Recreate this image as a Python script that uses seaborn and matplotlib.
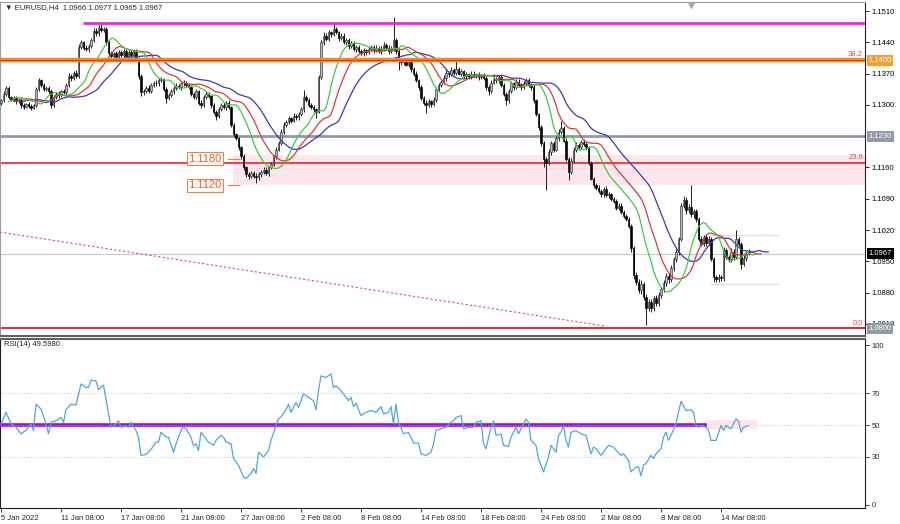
import numpy as np
import pandas as pd
import matplotlib
matplotlib.use("Agg")
import matplotlib.pyplot as plt
from matplotlib.patches import Rectangle
from matplotlib.transforms import blended_transform_factory
import seaborn as sns

# ---------------- data (prices in pips above 1.0000) ----------------
FIRST_OPEN = 1305
CLOSE = [
    1310, 1325, 1338, 1318, 1312, 1315, 1308, 1312, 1300, 1296,
    1302, 1298, 1294, 1300, 1335, 1355, 1345, 1335, 1338, 1330,
    1300, 1318, 1325, 1322, 1330, 1328, 1345, 1365, 1360, 1372,
    1365, 1430, 1440, 1428, 1425, 1432, 1445, 1465, 1460, 1472,
    1468, 1470, 1440, 1415, 1410, 1415, 1408, 1418, 1412, 1420,
    1410, 1418, 1412, 1420, 1405, 1365, 1328, 1330, 1338, 1332,
    1345, 1350, 1348, 1355, 1358, 1335, 1315, 1322, 1330, 1338,
    1342, 1340, 1348, 1350, 1345, 1340, 1325, 1318, 1330, 1305,
    1300, 1318, 1325, 1320, 1300, 1285, 1275, 1290, 1300, 1295,
    1305, 1295, 1255, 1235, 1225, 1205, 1185, 1160, 1145, 1140,
    1148, 1142, 1138, 1145, 1150, 1155, 1148, 1160, 1168, 1185,
    1200, 1215, 1240, 1255, 1262, 1270, 1265, 1275, 1272, 1280,
    1290, 1318, 1312, 1300, 1295, 1290, 1285, 1362, 1440, 1455,
    1448, 1462, 1458, 1470, 1462, 1450, 1455, 1440, 1445, 1432,
    1438, 1425, 1430, 1420, 1415, 1422, 1418, 1425, 1430, 1422,
    1428, 1420, 1425, 1435, 1428, 1420, 1425, 1445, 1420, 1400,
    1395, 1400, 1390, 1395, 1380, 1370, 1355, 1340, 1315, 1305,
    1300, 1308, 1302, 1312, 1335, 1345, 1352, 1360, 1372, 1368,
    1378, 1372, 1380, 1370, 1375, 1365, 1368, 1364, 1370, 1366,
    1368, 1362, 1366, 1360, 1340, 1332, 1350, 1358, 1355, 1362,
    1345, 1325, 1310, 1330, 1348, 1340, 1352, 1345, 1340, 1348,
    1355, 1345, 1340, 1310, 1280, 1250, 1215, 1180, 1170, 1195,
    1215, 1200, 1225, 1240, 1248, 1220, 1180, 1150, 1175, 1200,
    1210, 1205, 1218, 1212, 1205, 1170, 1135, 1120, 1115, 1108,
    1100, 1112, 1098, 1100, 1090, 1085, 1070, 1075, 1060, 1052,
    1045, 1030, 980, 920, 905, 885, 900, 870, 845, 860,
    845, 868, 858, 875, 888, 902, 918, 910, 935, 955,
    972, 1000, 1075, 1088, 1065, 1072, 1055, 1062, 1045, 1000,
    990, 1005, 992, 1000, 955, 915, 910, 915, 912, 975,
    960, 955, 972, 960, 1000, 990, 945, 958, 966, 967,
]
UP_WICK = [
    4, 6, 5, 4, 3, 5, 4, 3, 4, 5,
    3, 4, 5, 3, 6, 5, 4, 3, 5, 4,
    5, 4, 3, 6, 4, 5, 4, 6, 5, 4,
    5, 6, 5, 4, 6, 5, 5, 6, 8, 6,
    11, 5, 4, 6, 5, 4, 6, 5, 4, 5,
    6, 4, 5, 6, 4, 3, 4, 5, 4, 6,
    5, 4, 6, 5, 4, 3, 5, 4, 5, 4,
    6, 5, 4, 5, 4, 3, 5, 4, 6, 3,
    5, 4, 6, 4, 3, 5, 4, 5, 4, 6,
    4, 5, 3, 4, 3, 4, 3, 5, 4, 6,
    5, 4, 6, 5, 4, 6, 5, 4, 5, 4,
    5, 4, 5, 6, 4, 5, 4, 6, 5, 4,
    6, 15, 5, 4, 5, 4, 3, 5, 6, 7,
    5, 6, 4, 13, 5, 4, 6, 5, 4, 5,
    6, 4, 5, 4, 6, 5, 4, 6, 5, 4,
    5, 4, 6, 5, 4, 5, 6, 51, 5, 8,
    6, 5, 4, 6, 5, 4, 5, 4, 5, 4,
    6, 5, 4, 5, 6, 5, 4, 6, 5, 4,
    6, 5, 18, 4, 5, 4, 5, 4, 6, 5,
    4, 5, 4, 6, 5, 4, 6, 12, 5, 4,
    6, 5, 4, 6, 5, 4, 6, 5, 4, 5,
    6, 5, 4, 5, 4, 3, 4, 5, 4, 6,
    5, 4, 6, 5, 17, 4, 5, 4, 6, 5,
    6, 5, 4, 5, 4, 3, 5, 4, 5, 6,
    5, 4, 6, 5, 4, 5, 4, 6, 5, 4,
    5, 4, 3, 5, 6, 5, 8, 5, 6, 7,
    6, 5, 7, 6, 5, 6, 5, 7, 6, 5,
    6, 5, 6, 8, 5, 6, 49, 6, 5, 4,
    6, 5, 7, 6, 5, 4, 5, 6, 5, 7,
    6, 5, 7, 6, 20, 5, 4, 6, 5, 10,
]
DN_WICK = [
    5, 4, 6, 5, 4, 3, 5, 4, 6, 5,
    4, 5, 6, 4, 5, 4, 6, 5, 4, 5,
    8, 5, 4, 6, 5, 4, 5, 4, 6, 5,
    4, 5, 6, 5, 4, 6, 5, 4, 5, 6,
    5, 4, 6, 5, 4, 6, 5, 4, 5, 6,
    4, 5, 6, 4, 5, 6, 8, 5, 4, 6,
    5, 4, 6, 5, 4, 5, 10, 5, 4, 6,
    5, 4, 6, 5, 4, 5, 6, 5, 4, 5,
    6, 5, 4, 5, 6, 5, 8, 5, 4, 5,
    6, 5, 5, 6, 4, 5, 6, 5, 6, 5,
    4, 6, 13, 5, 6, 4, 5, 6, 4, 5,
    6, 4, 5, 6, 4, 5, 6, 4, 5, 6,
    4, 5, 6, 5, 4, 6, 15, 4, 5, 6,
    5, 4, 6, 5, 4, 6, 5, 4, 5, 6,
    5, 4, 6, 5, 4, 5, 6, 4, 5, 6,
    4, 5, 6, 5, 4, 6, 5, 4, 6, 22,
    5, 6, 4, 5, 6, 5, 4, 6, 5, 6,
    18, 5, 6, 4, 5, 6, 4, 5, 6, 5,
    4, 6, 5, 4, 6, 5, 4, 5, 6, 4,
    5, 6, 4, 5, 6, 10, 5, 4, 6, 5,
    4, 6, 10, 5, 4, 6, 5, 4, 6, 5,
    4, 5, 6, 5, 4, 6, 8, 20, 60, 5,
    6, 5, 4, 6, 5, 4, 6, 18, 5, 4,
    5, 6, 4, 5, 6, 5, 4, 6, 5, 4,
    6, 5, 4, 6, 5, 4, 6, 5, 4, 6,
    5, 6, 8, 10, 7, 6, 8, 7, 37, 6,
    8, 6, 7, 8, 6, 7, 6, 8, 6, 7,
    6, 7, 5, 6, 8, 6, 5, 7, 6, 5,
    6, 5, 7, 6, 5, 11, 6, 7, 5, 6,
    5, 6, 7, 6, 5, 6, 13, 5, 6, 1,
]
# RSI(14): bar number and value
RSI_BAR = [
    0, 2, 4, 6, 8, 10, 12, 13, 14, 16, 18, 19, 20, 22, 24, 25, 26, 28, 30, 32,
    34, 35, 36, 38, 39, 41, 42, 44, 46, 47, 48, 50, 51, 52, 54, 55, 56, 58, 60, 62,
    63, 64, 66, 67, 69, 70, 72, 73, 74, 76, 77, 78, 79, 80, 82, 83, 85, 86, 88, 89,
    90, 92, 93, 95, 97, 98, 100, 101, 102, 103, 105, 107, 108, 110, 111, 112, 114, 115, 116, 118,
    119, 121, 123, 125, 126, 127, 128, 130, 132, 133, 134, 136, 137, 139, 140, 141, 142, 144, 146, 148,
    150, 152, 153, 155, 156, 157, 158, 159, 161, 163, 165, 167, 168, 170, 172, 173, 174, 176, 178, 180,
    181, 182, 184, 185, 187, 189, 190, 192, 193, 194, 196, 197, 198, 200, 201, 203, 204, 206, 207, 208,
    210, 211, 212, 214, 215, 217, 219, 220, 222, 223, 224, 225, 226, 227, 228, 230, 232, 234, 236, 237,
    238, 240, 242, 243, 245, 246, 248, 249, 251, 252, 254, 255, 256, 257, 258, 260, 261, 262, 264, 265,
    266, 267, 268, 270, 272, 273, 274, 276, 277, 278, 279, 280, 282, 283, 284, 286, 288, 289, 290, 292,
    294, 295, 296, 297, 299,
]
RSI_VAL = [
    50.7, 58.0, 50.7, 48.6, 44.5, 46.6, 50.7, 46.6, 63.0, 60.0, 50.7, 44.5, 51.7, 52.7, 54.7, 51.7, 59.5, 63.0, 62.5, 75.6,
    73.5, 73.5, 78.0, 77.6, 72.0, 75.0, 66.0, 48.6, 50.7, 52.7, 48.6, 49.7, 48.6, 51.7, 46.6, 42.4, 31.0, 31.6, 34.7, 39.3,
    39.3, 45.5, 42.4, 42.4, 33.0, 38.3, 46.6, 48.6, 47.6, 42.4, 37.0, 38.3, 34.0, 45.5, 41.4, 39.3, 37.3, 40.4, 43.5, 42.4,
    39.3, 38.3, 29.0, 24.8, 17.6, 16.5, 19.7, 22.8, 19.7, 33.0, 30.0, 34.0, 40.4, 49.7, 54.0, 55.0, 59.5, 63.0, 57.9, 64.0,
    61.0, 69.4, 67.3, 65.2, 59.5, 71.5, 80.7, 79.7, 82.0, 73.5, 74.5, 71.5, 69.4, 65.2, 67.3, 61.5, 63.6, 55.9, 58.0, 59.0,
    58.0, 61.5, 56.9, 58.0, 61.5, 50.7, 63.1, 51.7, 44.5, 45.5, 38.7, 38.7, 32.0, 31.0, 33.0, 38.3, 46.6, 47.6, 48.6, 52.0,
    52.7, 54.7, 55.9, 47.6, 48.6, 48.6, 51.7, 52.7, 38.3, 35.2, 48.6, 52.5, 43.5, 44.5, 37.3, 36.6, 42.4, 48.6, 44.5, 47.6,
    53.8, 51.7, 40.4, 37.3, 29.0, 20.7, 29.8, 37.3, 33.0, 43.5, 45.5, 49.7, 40.4, 36.2, 45.5, 46.6, 44.5, 43.5, 32.0, 36.2,
    35.2, 31.0, 35.2, 37.3, 36.2, 34.2, 31.0, 32.0, 28.0, 20.7, 23.8, 23.8, 18.2, 25.0, 26.0, 31.0, 29.0, 32.0, 35.2, 42.4,
    45.5, 40.4, 43.5, 51.0, 64.8, 62.1, 59.0, 59.5, 58.0, 49.7, 48.6, 49.7, 48.6, 46.6, 40.4, 40.4, 49.7, 46.6, 49.7, 47.6,
    53.8, 52.7, 45.5, 48.6, 49.7,
]
TIME_LABELS = ["5 Jan 2022", "11 Jan 08:00", "17 Jan 08:00", "21 Jan 08:00",
               "27 Jan 08:00", "2 Feb 08:00", "8 Feb 08:00", "14 Feb 08:00",
               "18 Feb 08:00", "24 Feb 08:00", "2 Mar 08:00", "8 Mar 08:00",
               "14 Mar 08:00"]
BARS_PER_LABEL = 24
PRICE_TICKS = [1.1510, 1.1440, 1.1370, 1.1300, 1.1160, 1.1090, 1.1020,
               1.0950, 1.0880, 1.0810]
RSI_TICKS = [0, 30, 50, 70, 100]
RSI_LEVELS = [30, 50, 70]
LEVEL_HIGH = 1.1483
LEVEL_382 = 1.1400
LEVEL_GRAY = 1.1230
LEVEL_236 = 1.1171
LEVEL_000 = 1.0800
LAST_PRICE = 1.0967
ZONE = [1.1121, 1.1188]
BOX_LEVELS = [1.1180, 1.1120]
RANGE_LINES = [1.1009, 1.0899]
TREND_PRICES = [1.10156, 1.08053]
HEADER = "\u25bc EURUSD,H4  1.0966 1.0977 1.0965 1.0967"
RSI_LABEL = "RSI(14) 49.5980"

# ---------------- derived OHLC ----------------
close = 1.0 + np.array(CLOSE) / 10000.0
opens = np.concatenate([[1.0 + FIRST_OPEN / 10000.0], close[:-1]])
high = np.maximum(opens, close) + np.array(UP_WICK) / 10000.0
low = np.minimum(opens, close) - np.array(DN_WICK) / 10000.0
n = len(close)
idx = np.arange(n)
df = pd.DataFrame({"bar": idx, "open": opens, "high": high, "low": low, "close": close})
rsi_df = pd.DataFrame({"bar": RSI_BAR, "rsi": RSI_VAL})

# Alligator (jaw / teeth / lips) from the median price
med = (df["high"] + df["low"]) / 2
alligator = []
for period, shift, col in [(13, 8, "#3a3ab8"), (8, 5, "#d83a3a"), (5, 3, "#3ccc3c")]:
    s = med.ewm(alpha=1.0 / period, adjust=False).mean()
    alligator.append(pd.DataFrame({"bar": idx + shift, "v": s.values, "c": col}))

# ---------------- figure ----------------
sns.set_style("white")
plt.rcParams["font.family"] = ["Liberation Sans", "DejaVu Sans"]
W, H = 900, 524
fig = plt.figure(figsize=(9, 5.24), dpi=100)
fig.patch.set_facecolor("white")

AX_L, AX_R = 0, 865
ax = fig.add_axes([AX_L / W, 1 - 336 / H, (AX_R - AX_L) / W, 334 / H])
axr = fig.add_axes([AX_L / W, 1 - 508 / H, (AX_R - AX_L) / W, 169 / H])

PX_PER_BAR = 2.5
xmin = -0.4
xmax = xmin + (AX_R - AX_L) / PX_PER_BAR


def px2bar(px):
    return (px - 1) / PX_PER_BAR


for a in (ax, axr):
    a.set_xlim(xmin, xmax)
    a.set_facecolor("white")
ax.set_ylim(1.0810 - 12 / 4470, 1.1510 + 9 / 4470)
axr.set_ylim(-1.9, 103.8)

# background zone
ax.add_patch(Rectangle((px2bar(233), ZONE[0]), xmax - px2bar(233), ZONE[1] - ZONE[0],
                       facecolor="#fde6ec", edgecolor="none", zorder=1))

# horizontal levels
ax.axhline(LAST_PRICE, color="#c8c8c8", lw=0.8, zorder=1.5)
ax.axhline(LEVEL_GRAY, color="#8f9ca8", lw=2.0, zorder=2)
ax.axhline(LEVEL_236, color="#e8262a", lw=1.2, zorder=2)
ax.axhline(LEVEL_000, color="#e8262a", lw=1.4, zorder=2)
ax.axhline(LEVEL_382 + 0.00003, color="#ff8c1a", lw=3.2, zorder=5)
ax.axhline(LEVEL_382 - 0.00004, color="#e8401a", lw=1.0, zorder=5)
ax.hlines(LEVEL_HIGH, px2bar(83), xmax, color="#ee22ee", lw=2.0, zorder=5)
for lv in RANGE_LINES:
    ax.hlines(lv, px2bar(710), px2bar(779), color="#dcdcdc", lw=0.8, zorder=1.5)
ax.plot([xmin, px2bar(605)], TREND_PRICES, color="#e05060", lw=0.8,
        ls=(0, (2, 2)), zorder=2)

# candles
ax.vlines(df["bar"], df["low"], df["high"], color="#202020", lw=0.7, zorder=3)
body_lo = np.minimum(opens, close)
body_h = np.maximum(np.abs(close - opens), 0.00004)
bull = close >= opens
ax.bar(idx[bull], body_h[bull], bottom=body_lo[bull], width=0.75,
       color="#b8b8b8", edgecolor="#303030", lw=0.45, zorder=3.2)
ax.bar(idx[~bull], body_h[~bull], bottom=body_lo[~bull], width=0.75,
       color="#000000", edgecolor="#000000", lw=0.45, zorder=3.2)

# alligator lines
for a_df in alligator:
    sns.lineplot(data=a_df, x="bar", y="v", ax=ax, color=a_df["c"].iloc[0],
                 lw=0.9, estimator=None, sort=False, zorder=4)

# left price boxes
for lv in BOX_LEVELS:
    ax.text(px2bar(205), lv, f"{lv:.4f}", ha="center", va="center", fontsize=8,
            color="#f05a24", zorder=6,
            bbox=dict(boxstyle="square,pad=0.12", fc="white", ec="#f08040", lw=0.8))
    ax.hlines(lv, px2bar(227), px2bar(240), color="#f08040", lw=0.8, zorder=6)

# fibo labels
for lv, lab in [(LEVEL_382, "38.2"), (LEVEL_236, "23.6"), (LEVEL_000, "0.0")]:
    ax.text(px2bar(863), lv + 0.0004, lab, ha="right", va="bottom", fontsize=5.5,
            color="#e04848", zorder=6)

# right axis
ax.yaxis.tick_right()
ax.set_yticks(PRICE_TICKS)
ax.set_yticklabels([f"{v:.4f}" for v in PRICE_TICKS])
ax.tick_params(axis="y", labelsize=5.5, length=3, width=0.6, pad=2, colors="#000000")
ax.set_xticks([])
ax.set_xlabel("")
ax.set_ylabel("")
trans = blended_transform_factory(ax.transAxes, ax.transData)
for lv, fc, tc in [(LEVEL_382, "#f7a032", "white"), (LEVEL_GRAY, "#8f9ca8", "white"),
                   (LAST_PRICE, "#000000", "white"), (LEVEL_000, "#8f9ca8", "white")]:
    ax.text(1.004, lv, f"{lv:.4f}", transform=trans, ha="left", va="center",
            fontsize=5.5, color=tc, clip_on=False, zorder=7,
            bbox=dict(boxstyle="square,pad=0.25", fc=fc, ec="none"))

for sp in ["left", "top"]:
    ax.spines[sp].set_color("#9a9a9a")
    ax.spines[sp].set_linewidth(0.8)
ax.spines["right"].set_color("#202020")
ax.spines["right"].set_linewidth(0.8)
ax.spines["bottom"].set_color("#606060")
ax.spines["bottom"].set_linewidth(1.5)

# chart shift marker
ax.plot([px2bar(691)], [0.992], transform=blended_transform_factory(ax.transData, ax.transAxes),
        marker="v", ms=4, color="#a8a8a8", clip_on=False, zorder=8)

# ---------------- RSI panel ----------------
for lv in RSI_LEVELS:
    axr.axhline(lv, color="#cfcfcf", lw=0.6, ls=(0, (2, 2)), zorder=1)
axr.add_patch(Rectangle((px2bar(708), 47.7), px2bar(757) - px2bar(708), 5.2,
                        facecolor="#fde4ea", edgecolor="none", zorder=1.2))
axr.hlines(50, xmin, px2bar(707), color="#8a10d8", lw=2.6, zorder=3)
axr.hlines(50, xmin, px2bar(707), color="#ff40ff", lw=0.9, ls=(0, (1, 1)), zorder=3.1)
sns.lineplot(data=rsi_df, x="bar", y="rsi", ax=axr, color="#4fa6e0", lw=0.9,
             estimator=None, zorder=4)
axr.yaxis.tick_right()
axr.set_yticks(RSI_TICKS)
axr.set_yticklabels([str(v) for v in RSI_TICKS])
axr.tick_params(axis="y", labelsize=5.5, length=3, width=0.6, pad=2)
tick_bars = [k * BARS_PER_LABEL for k in range(len(TIME_LABELS))]
axr.set_xticks(tick_bars)
axr.set_xticklabels(TIME_LABELS, ha="left")
axr.tick_params(axis="x", labelsize=5.5, length=3, width=0.6, pad=2, direction="out",
                bottom=True)
axr.set_xlabel("")
axr.set_ylabel("")
for sp in ["left", "right", "bottom"]:
    axr.spines[sp].set_color("#202020")
    axr.spines[sp].set_linewidth(0.8)
axr.spines["top"].set_color("#606060")
axr.spines["top"].set_linewidth(1.5)

fig.text(5 / W, 1 - 8 / H, HEADER, fontsize=5.5, va="center", ha="left")
fig.text(4 / W, 1 - 345 / H, RSI_LABEL, fontsize=5.5, va="center", ha="left", color="#202020")

fig.savefig("out.png", dpi=100, facecolor="white")
